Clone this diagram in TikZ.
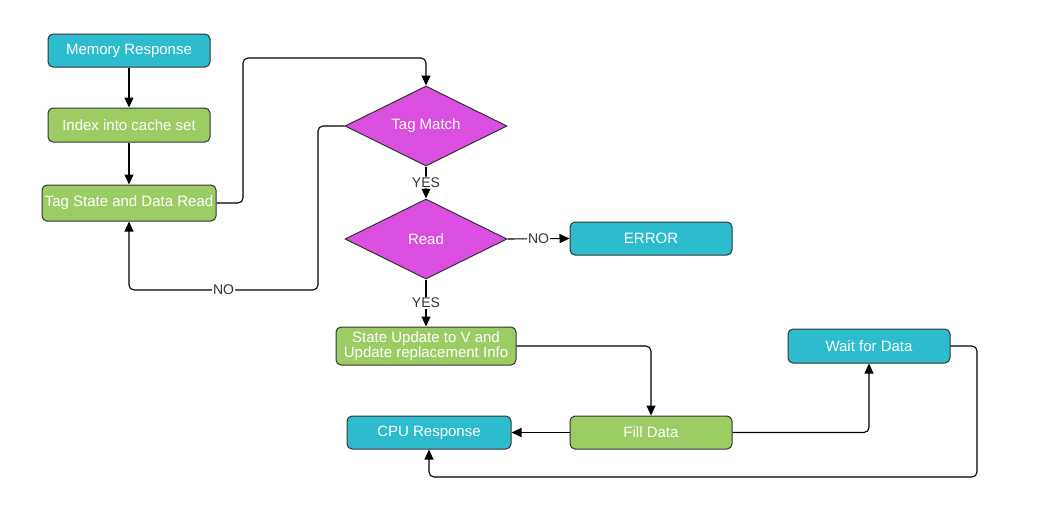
\documentclass[tikz,border=0pt]{standalone}
\usepackage{fontspec}
\setmainfont{Liberation Sans}
\usetikzlibrary{shapes.geometric,arrows.meta}
\definecolor{boxcyan}{HTML}{2CBCCE}
\definecolor{boxgreen}{HTML}{9CCC64}
\definecolor{boxmag}{HTML}{DA4FE0}
\definecolor{edgegray}{HTML}{333333}
\tikzset{
  base/.style={draw=edgegray, line width=1pt, text=white, font=\fontsize{15}{16}\selectfont, align=center, inner sep=0pt},
  cbox/.style={base, rectangle, rounded corners=5pt, fill=boxcyan},
  gbox/.style={base, rectangle, rounded corners=5pt, fill=boxgreen},
  dbox/.style={base, diamond, aspect=2, fill=boxmag, minimum width=162pt, minimum height=80pt},
  arr/.style={draw=black, line width=1.1pt, rounded corners=5pt, -{Triangle[width=9pt,length=10pt]}},
  lbl/.style={fill=white, text=edgegray, font=\fontsize{14}{15}\selectfont, inner sep=1pt}
}
\begin{document}
\begin{tikzpicture}[x=1pt,y=-1pt]
  \useasboundingbox (0,0) rectangle (1045,523);

  % process boxes
  \node[cbox, minimum width=162pt, minimum height=33pt] (mem) at (129,50.5) {Memory Response};
  \node[gbox, minimum width=162pt, minimum height=34pt] (idx) at (129,125) {Index into cache set};
  \node[gbox, minimum width=174pt, minimum height=36pt] (ts) at (129,203) {Tag State and Data Read};
  \node[dbox] (tm) at (426,126) {Tag Match};
  \node[dbox] (rd) at (426,239) {Read};
  \node[cbox, minimum width=162pt, minimum height=33pt] (err) at (651,238.5) {ERROR};
  \node[gbox, minimum width=180pt, minimum height=38pt] (su) at (426,346)
    {State Update to V and\\[-1pt]Update replacement Info};
  \node[cbox, minimum width=164pt, minimum height=33pt] (cpu) at (429,432.5) {CPU Response};
  \node[gbox, minimum width=162pt, minimum height=33pt] (fill) at (651,432.5) {Fill Data};
  \node[cbox, minimum width=162pt, minimum height=34pt] (wait) at (869,346) {Wait for Data};

  % connectors
  \draw[arr] (mem) -- (idx);
  \draw[arr] (idx) -- (ts);
  \draw[arr] (ts.east) -| (243,58) -| (tm.north);
  \draw[arr] (tm.west) -| (318,290) -| node[lbl,pos=0.25]{NO} (ts.south);
  \draw[arr] (tm.south) -- node[lbl]{YES} (rd.north);
  \draw[arr] (rd.east) -- node[lbl]{NO} (err.west);
  \draw[arr] (rd.south) -- node[lbl]{YES} (su.north);
  \draw[arr] (su.east) -| (fill.north);
  \draw[arr] (fill.west) -- (cpu.east);
  \draw[arr] (fill.east) -| (wait.south);
  \draw[arr] (wait.east) -| (977,477) -| (cpu.south);
\end{tikzpicture}
\end{document}
